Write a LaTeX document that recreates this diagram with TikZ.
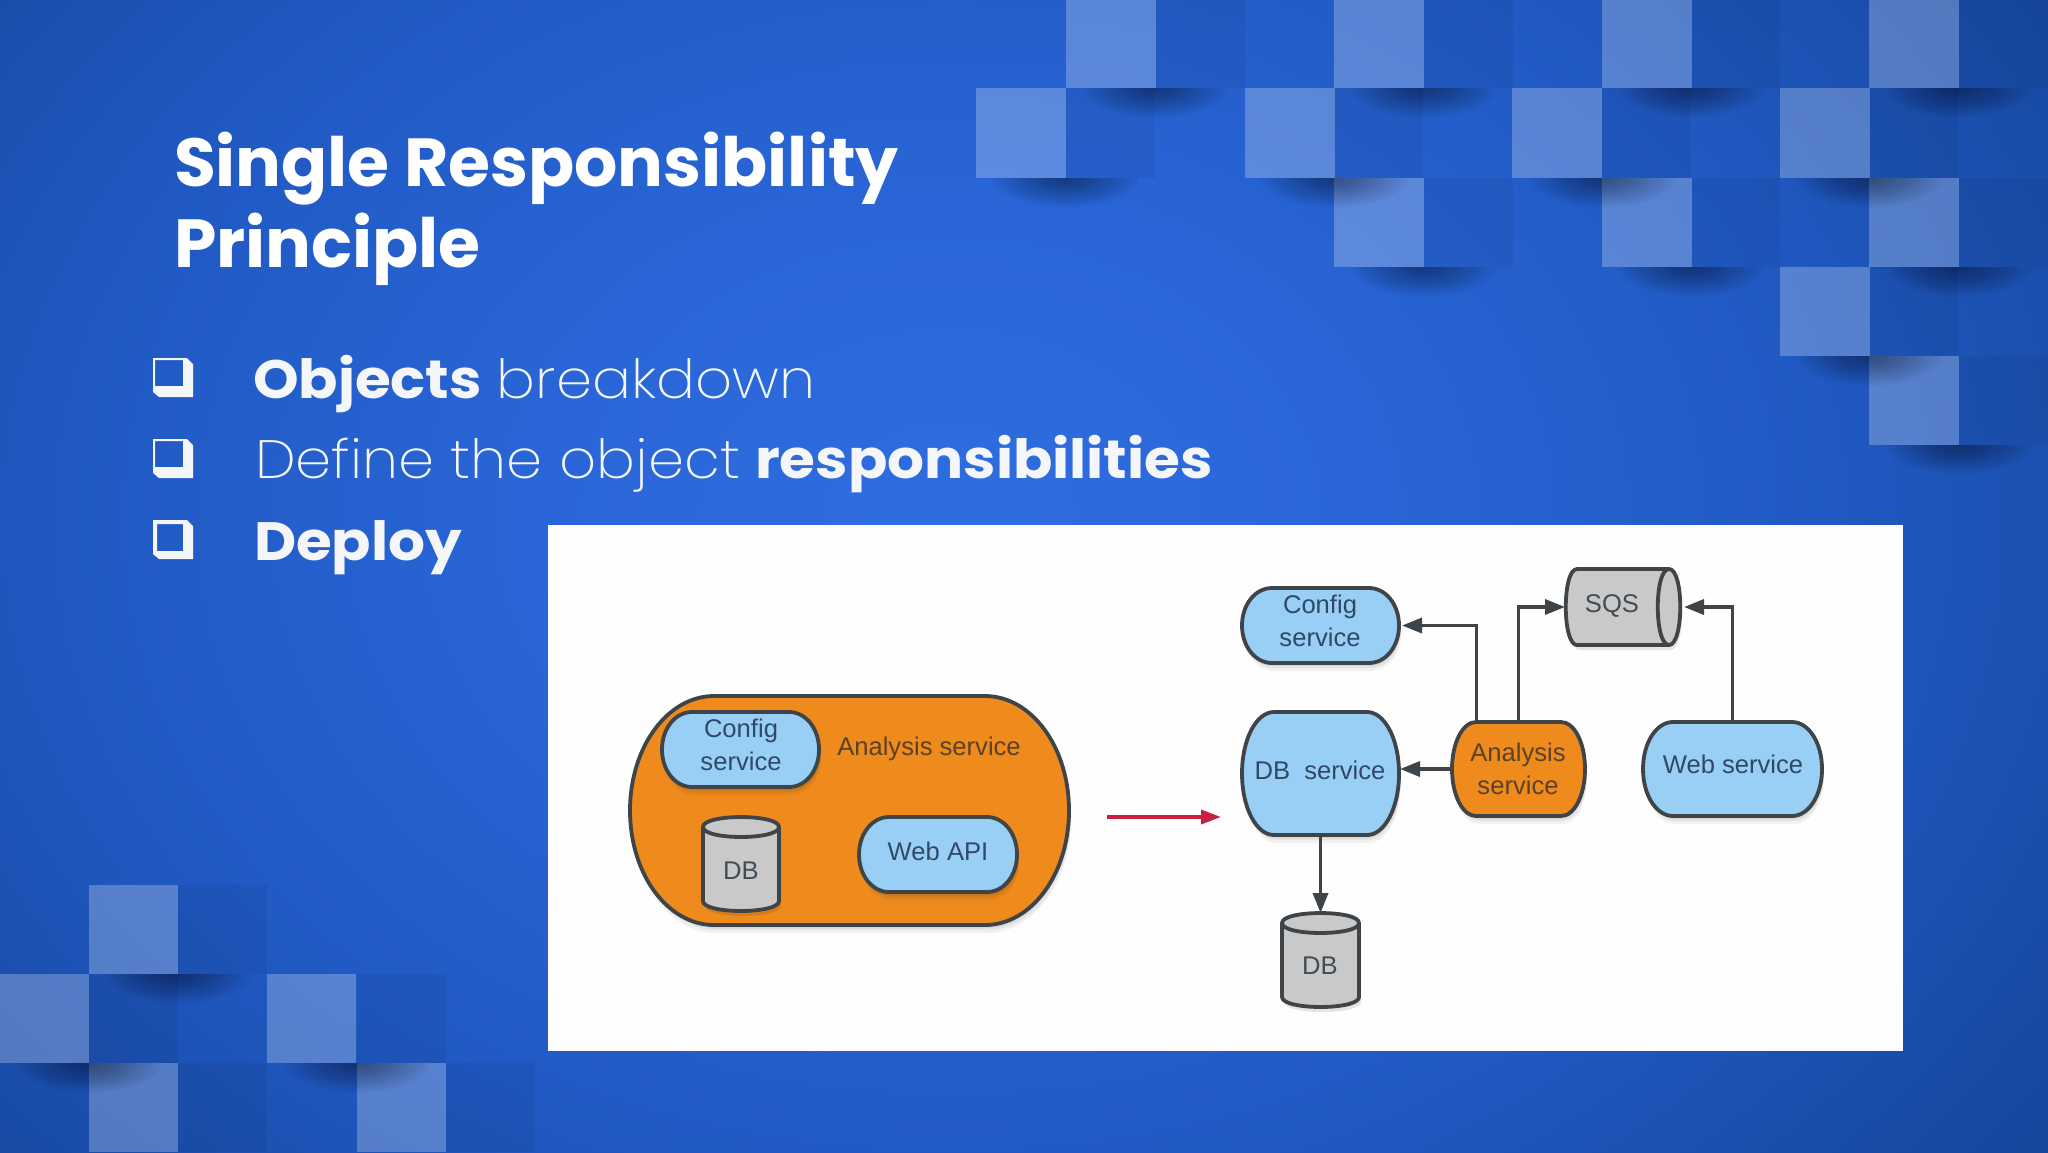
\documentclass[tikz,border=0pt]{standalone}
\usepackage{fontspec}
\usetikzlibrary{arrows.meta,calc}
\setmainfont{Liberation Sans}
\newfontfamily\titlef{Poppins Bold}
\newfontfamily\bodyb{Poppins Bold}[FakeStretch=1.075]
\newfontfamily\bodyl{Poppins ExtraLight}[FakeStretch=1.07]
\definecolor{bgA}{HTML}{2E6DE0}
\definecolor{bgB}{HTML}{2A66D8}
\definecolor{bgC}{HTML}{2059C2}
\definecolor{bgD}{HTML}{123E8D}
\definecolor{nodeblue}{HTML}{99CFF4}
\definecolor{nodeorange}{HTML}{EF8B1D}
\definecolor{nodegrey}{HTML}{C9C9C9}
\definecolor{edgegrey}{HTML}{3F4448}
\definecolor{txtblue}{HTML}{2E4A66}
\definecolor{txtorange}{HTML}{5A4226}
\definecolor{txtgrey}{HTML}{424C56}
\definecolor{redarrow}{HTML}{C8213F}
\definecolor{paper}{HTML}{F4F6FA}
\pgfdeclareradialshading{bgr}{\pgfpoint{0bp}{0bp}}{color(0bp)=(bgA); color(9bp)=(bgB); color(20bp)=(bgC); color(36bp)=(bgD); color(50bp)=(bgD)}
\tikzset{
  lightsq/.style={fill=white,fill opacity=.25},
  darksq/.style={fill=black,fill opacity=.05},
  shapeline/.style={draw=edgegrey,line width=1.9pt,line join=round},
  softshadow/.style={fill=black,fill opacity=.05},
  anchorbox/.style={inner sep=0pt,outer sep=0pt},
  lbl/.style={font=\fontsize{12.8}{16.5}\selectfont,align=center,inner sep=0pt,outer sep=0pt},
  conn/.style={draw=edgegrey,line width=1.75pt,-{Triangle[length=10pt,width=7.5pt]}},
  redconn/.style={draw=redarrow,line width=1.8pt,-{Triangle[length=10pt,width=7pt]}},
  bullet/.style={anchor=base west,text=paper,inner sep=0pt,outer sep=0pt,font=\fontsize{27}{27}\selectfont},
  titletext/.style={anchor=base west,text=white,inner sep=0pt,outer sep=0pt,font=\fontsize{34}{34}\titlef}
}
\newcommand{\termpath}[5]{({#1},{(#2+#4)/2}) .. controls ({#1},{(#2+#4)/2-.276*(#4-#2)}) and ({#1+.45*#5},{#2}) .. ({#1+#5},{#2}) -- ({#3-#5},{#2}) .. controls ({#3-.45*#5},{#2}) and ({#3},{(#2+#4)/2-.276*(#4-#2)}) .. ({#3},{(#2+#4)/2}) .. controls ({#3},{(#2+#4)/2+.276*(#4-#2)}) and ({#3-.45*#5},{#4}) .. ({#3-#5},{#4}) -- ({#1+#5},{#4}) .. controls ({#1+.45*#5},{#4}) and ({#1},{(#2+#4)/2+.276*(#4-#2)}) .. cycle}
% name x0 y0 x1 y1 rx fill
\newcommand{\terminator}[7]{%
  \fill[softshadow,xshift=1pt,yshift=-4pt] \termpath{#2+1}{#3+1}{#4-1}{#5-1}{#6};
  \fill[softshadow,xshift=1pt,yshift=-2.5pt] \termpath{#2+1}{#3+1}{#4-1}{#5-1}{#6};
  \fill[softshadow,xshift=.5pt,yshift=-1.5pt] \termpath{#2+1}{#3+1}{#4-1}{#5-1}{#6};
  \path[shapeline,fill=#7] \termpath{#2+1}{#3+1}{#4-1}{#5-1}{#6};
  \node[anchorbox,minimum width={(#4-#2)*0.5pt},minimum height={(#5-#3)*0.5pt}] (#1) at ({(#2+#4)/2},{(#3+#5)/2}) {};
}
% name x0 y0 x1 y1 ry
\newcommand{\cylinder}[6]{%
  \fill[softshadow,fill opacity=.1,xshift=1pt,yshift=-2.5pt] (#2,{#3+#6}) -- (#2,{#5-#6}) .. controls (#2,{#5+.33*#6}) and (#4,{#5+.33*#6}) .. (#4,{#5-#6}) -- (#4,{#3+#6}) .. controls (#4,{#3-.33*#6}) and (#2,{#3-.33*#6}) .. cycle;
  \path[shapeline,fill=nodegrey] (#2,{#3+#6}) -- (#2,{#5-#6}) .. controls (#2,{#5+.33*#6}) and (#4,{#5+.33*#6}) .. (#4,{#5-#6}) -- (#4,{#3+#6}) .. controls (#4,{#3-.33*#6}) and (#2,{#3-.33*#6}) .. cycle;
  \path[shapeline] (#2,{#3+#6}) .. controls (#2,{#3+2.33*#6}) and (#4,{#3+2.33*#6}) .. (#4,{#3+#6});
  \node[anchorbox,minimum width={(#4-#2)*0.5pt},minimum height={(#5-#3)*0.5pt}] (#1) at ({(#2+#4)/2},{(#3+#5)/2}) {};
}
% top-left x, y, right edge of hole, bottom of hole, hole left, hole top
\newcommand{\checkbox}[6]{%
  \fill[paper,even odd rule] (#1,#2) -- ({#1+34},#2) -- ({#1+40},{#2+6}) -- ({#1+40},{#2+39}) -- ({#1+6},{#2+39}) -- (#1,{#2+34}) -- cycle
    (#5,#6) rectangle (#3,#4);
}
% shadow below a square: centre x, y
\newcommand{\dropshade}[2]{%
  \begin{scope}
    \clip ({#1-90},#2) rectangle ({#1+90},{#2+40});
    \foreach \k in {1,...,14}{\fill[black,fill opacity=.032] (#1,#2) ellipse [x radius={5.2*\k},y radius={2.1*\k}];}
  \end{scope}
}
\begin{document}
\begin{tikzpicture}[x=0.5pt,y=-0.5pt]
\useasboundingbox (0,0) rectangle (2048,1152);
\begin{scope}
  \clip (0,0) rectangle (2048,1152);
  \shade[shading=bgr] (-150,-316) rectangle (2050,1356);
  % dark cells, top right
  \foreach \x/\y in {1156/0,1424/0,1691/0,1959/0,1066/88,1334/88,1602/88,1869/88,1424/178,1691/178,1959/178,1869/267,1959/356}
    \fill[darksq] (\x,\y) rectangle ++(89,{\y==88?90:(\y==0?88:89)});
  % dark cells, bottom left
  \foreach \x/\y in {178/885,89/974,357/974,178/1063,446/1063}
    \fill[darksq] (\x,\y) rectangle ++(89,89);
  % light squares, top right
  \foreach \x/\y in {1066/0,1334/0,1602/0,1869/0,976/88,1245/88,1512/88,1780/88,1334/178,1602/178,1869/178,1780/267,1869/356}
    \fill[lightsq] (\x,\y) rectangle ++(90,{\y==88?90:(\y==0?88:89)});
  % light squares, bottom left
  \foreach \x/\y in {89/885,0/974,267/974,89/1063,357/1063}
    \fill[lightsq] (\x,\y) rectangle ++(89,89);
  % shadows
  \foreach \x/\y in {1156/88,1424/88,1691/88,1959/88,1066/178,1334/178,1602/178,1869/178,1424/267,1691/267,1959/267,1869/356,1959/445,178/974,89/1063,357/1063}
    {\dropshade{\x}{\y}}
\end{scope}

% title
\node[titletext] (title1) at (174,186) {Single Responsibility};
\node[titletext] (title2) at (174,267) {Principle};

% bullets
\checkbox{153}{358}{183}{386}{155}{360}
\checkbox{153}{439}{183}{467}{155}{441}
\checkbox{153}{520}{183}{551}{157}{524}
\node[bullet] (b1) at (253,398) {{\bodyb Objects} {\bodyl breakdown}};
\node[bullet] (b2) at (255,478) {{\bodyl Define the object} {\bodyb responsibilities}};
\node[bullet] (b3) at (254,560) {{\bodyb Deploy}};

% white panel
\fill[white!99.5!black] (548,525) rectangle (1903,1051);

% left diagram
\terminator{bigan}{629}{695}{1070}{926}{84}{nodeorange}
\terminator{cfgA}{661}{711}{820}{788}{30}{nodeblue}
\terminator{webA}{858}{816}{1018}{893}{30}{nodeblue}
\cylinder{dbA}{703}{817}{779}{911}{10}
\node[lbl,text=txtblue] (cfgAt) at (741,745) {Config\\service};
\node[lbl,text=txtorange,anchor=base] (biganT) at (929,755) {Analysis service};
\node[lbl,text=txtgrey,anchor=base] (dbAt) at (741,879) {DB};
\node[lbl,text=txtblue,anchor=base] (webAt) at (938,860) {Web API};

% right diagram
\terminator{cfgB}{1241}{587}{1400}{664}{30}{nodeblue}
\terminator{dbsvc}{1241}{711}{1400}{836}{32}{nodeblue}
\terminator{ansvc}{1451}{721}{1586}{817}{24}{nodeorange}
\terminator{websvc}{1642}{721}{1823}{817}{30}{nodeblue}
\cylinder{dbB}{1282}{913}{1359}{1007}{10}
% SQS
\fill[softshadow,fill opacity=.1,xshift=1pt,yshift=-2.5pt] (1577,569) -- (1669,569) .. controls (1684,569) and (1684,645) .. (1669,645) -- (1577,645) .. controls (1562,645) and (1562,569) .. cycle;
\path[shapeline,fill=nodegrey] (1577,569) -- (1669,569) .. controls (1684,569) and (1684,645) .. (1669,645) -- (1577,645) .. controls (1562,645) and (1562,569) .. cycle;
\path[shapeline] (1669,569) .. controls (1654,569) and (1654,645) .. (1669,645);
\node[anchorbox,minimum width=58pt,minimum height=39pt] (sqs) at (1623,607) {};

\node[lbl,text=txtblue] (cfgBt) at (1320,621) {Config\\service};
\node[lbl,text=txtblue,anchor=base] (dbsvct) at (1320,779) {DB\ \ service};
\node[lbl,text=txtorange] (ansvct) at (1518,769) {Analysis\\service};
\node[lbl,text=txtblue,anchor=base] (websvct) at (1733,773) {Web service};
\node[lbl,text=txtgrey,anchor=base] (sqst) at (1612,612) {SQS};
\node[lbl,text=txtgrey,anchor=base] (dbBt) at (1320,974) {DB};

% connectors
\coordinate (arrowstart) at (1107,817);
\coordinate (arrowend) at (1221,817);
\draw[redconn] (arrowstart) -- (arrowend);
\draw[conn] ($(ansvc.north)+(-42,0)$) |- ($(cfgB.east)+(2,0)$);
\draw[conn] (ansvc.north) |- (sqs.west);
\draw[conn] (websvc.north) |- ($(sqs.east)+(3,0)$);
\draw[conn] (ansvc.west) -- (dbsvc.east |- ansvc.west);
\draw[conn] (dbsvc.south) -- (dbB.north);
\end{tikzpicture}
\end{document}
